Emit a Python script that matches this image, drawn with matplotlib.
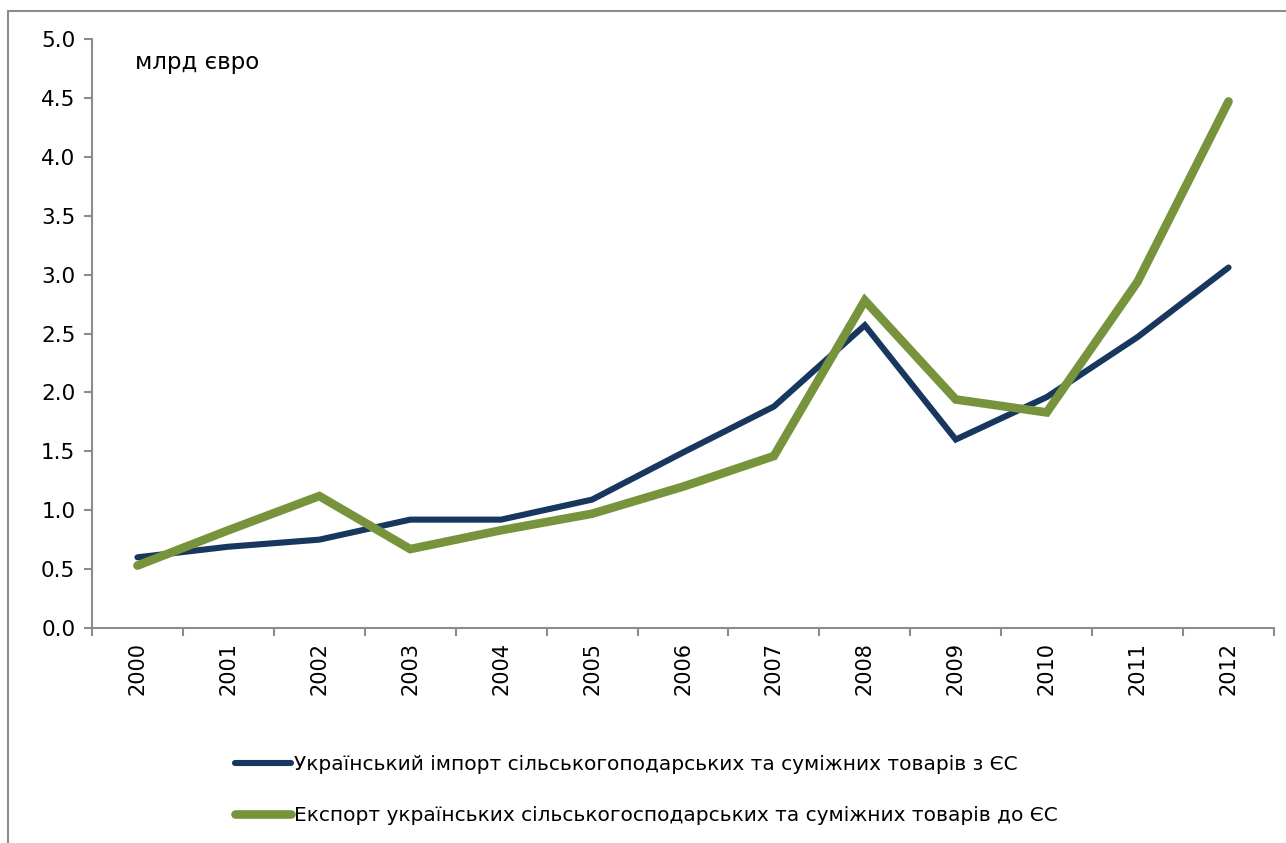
import matplotlib
matplotlib.use("Agg")
import matplotlib.pyplot as plt
import numpy as np
from matplotlib.patches import Rectangle
from matplotlib.lines import Line2D

years = ["2000", "2001", "2002", "2003", "2004", "2005", "2006",
         "2007", "2008", "2009", "2010", "2011", "2012"]
imports = [0.60, 0.69, 0.75, 0.92, 0.92, 1.09, 1.49, 1.88, 2.57, 1.60, 1.96, 2.47, 3.06]
exports = [0.53, 0.83, 1.12, 0.67, 0.83, 0.97, 1.20, 1.46, 2.78, 1.94, 1.83, 2.94, 4.47]
yticks = [0.0, 0.5, 1.0, 1.5, 2.0, 2.5, 3.0, 3.5, 4.0, 4.5, 5.0]
label_imp = "Український імпорт сільськогоподарських та суміжних товарів з ЄС"
label_exp = "Експорт українських сільськогосподарських та суміжних товарів до ЄС"
unit = "млрд євро"

plt.rcParams['font.family'] = ['DejaVu Sans']
W, H = 1286, 843
fig = plt.figure(figsize=(W / 100, H / 100), dpi=100)

# outer frame
fig.patches.append(Rectangle((8 / W, -0.05), 1.1, (H - 11) / H + 0.05,
                             transform=fig.transFigure, fill=False,
                             edgecolor="#8c8c8c", linewidth=1.5))

ax = fig.add_axes([92 / W, (H - 628) / H, (1274 - 92) / W, (628 - 39) / H])
x = np.arange(len(years))
navy = "#17375e"
green = "#77933c"
ax.plot(x, imports, color=navy, lw=4.4, solid_capstyle="round", solid_joinstyle="miter")
ax.plot(x, exports, color=green, lw=6.2, solid_capstyle="round", solid_joinstyle="miter")

ax.set_xlim(-0.5, len(years) - 0.5)
ax.set_ylim(0, 5)
ax.set_yticks(yticks)
ax.set_yticklabels([f"{v:.1f}" for v in yticks], fontsize=15.5)
ax.set_xticks(x)
ax.set_xticklabels(years, rotation=90, fontsize=15)
ax.set_xticks(np.arange(-0.5, len(years)), minor=True)
ax.tick_params(axis="x", which="major", length=0, pad=10)
ax.tick_params(axis="x", which="minor", length=6, width=1.5, color="#8c8c8c", direction="out")
ax.tick_params(axis="y", length=6, width=1.5, color="#8c8c8c", pad=6)
for s in ["top", "right"]:
    ax.spines[s].set_visible(False)
for s in ["left", "bottom"]:
    ax.spines[s].set_color("#8c8c8c")
    ax.spines[s].set_linewidth(1.5)

fig.text(135 / W, (H - 62) / H, unit, fontsize=16.5, va="center", ha="left")

handles = [Line2D([], [], color=navy, lw=4.4, solid_capstyle="round"),
           Line2D([], [], color=green, lw=6.2, solid_capstyle="round")]
fig.legend(handles, [label_imp, label_exp], loc="center left",
           bbox_to_anchor=(235 / W, (H - 790) / H), frameon=False,
           fontsize=14.5, handlelength=2.8, handletextpad=0.15, labelspacing=1.55,
           borderaxespad=0, borderpad=0)

fig.savefig("out.png", dpi=100)
